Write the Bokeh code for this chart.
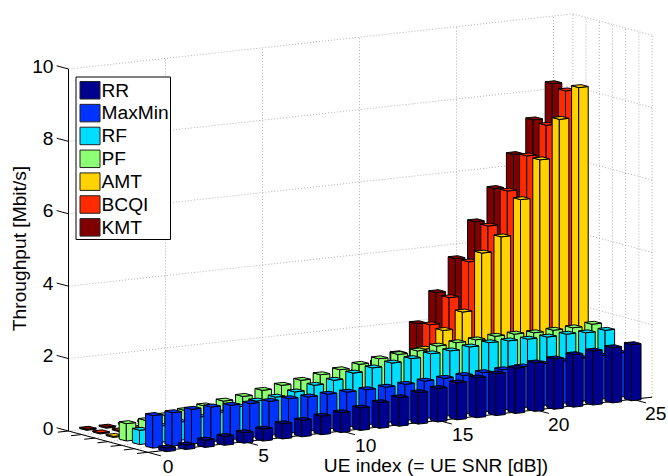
from bokeh.plotting import figure
from bokeh.models import Range1d
from bokeh.core.properties import value
from bokeh.embed import file_html
from bokeh.resources import INLINE

# ---- data (Mbit/s per UE index 1..25) ----
UE = list(range(1, 26))
RR = [0.10, 0.125, 0.20, 0.245, 0.29, 0.33, 0.42, 0.455, 0.51, 0.55, 0.62, 0.71, 0.79,
      0.87, 0.925, 1.02, 1.10, 1.155, 1.25, 1.34, 1.39, 1.45, 1.49, 1.525, 1.55]
MaxMin = [0.90, 0.92, 0.955, 0.96, 0.95, 0.94, 0.94, 0.955, 0.945, 0.96, 0.96, 0.97, 0.98,
          1.00, 1.03, 1.05, 1.07, 1.09, 1.11, 1.13, 1.15, 1.17, 1.19, 1.20, 1.22]
RF = [0.395, 0.45, 0.50, 0.58, 0.65, 0.75, 0.85, 0.90, 0.985, 1.11, 1.19, 1.33, 1.415,
      1.49, 1.555, 1.63, 1.65, 1.70, 1.76, 1.75, 1.74, 1.74, 1.76, 1.74, 1.75]
PF = [0.48, 0.51, 0.59, 0.67, 0.735, 0.81, 0.88, 0.99, 1.07, 1.15, 1.245, 1.325, 1.415,
      1.51, 1.57, 1.61, 1.685, 1.72, 1.74, 1.78, 1.78, 1.76, 1.77, 1.78, 1.82]
AMT = [0.03, 0.03, 0.04, 0.06, 0.08, 0.10, 0.13, 0.17, 0.20, 0.25, 0.30, 0.40, 0.50,
       0.70, 0.90, 1.20, 1.50, 1.96, 2.41, 3.98, 4.37, 5.34, 6.38, 7.44, 8.26]
BCQI = [0.03, 0.03, 0.04, 0.06, 0.08, 0.10, 0.13, 0.17, 0.20, 0.25, 0.30, 0.40, 0.50,
        0.65, 0.80, 1.00, 1.15, 2.02, 2.71, 3.64, 4.57, 5.48, 6.39, 7.18, 8.07]
KMT = [0.03, 0.03, 0.04, 0.06, 0.08, 0.10, 0.13, 0.17, 0.20, 0.25, 0.30, 0.40, 0.50,
       0.65, 0.80, 1.00, 1.18, 1.95, 2.75, 3.63, 4.59, 5.45, 6.33, 7.23, 8.17]

names = ["RR", "MaxMin", "RF", "PF", "AMT", "BCQI", "KMT"]
series = [RR, MaxMin, RF, PF, AMT, BCQI, KMT]
colors = ["#00008F", "#0033FF", "#00DDFF", "#8CFF73", "#FFD200", "#FF2A00", "#800000"]

x_ticks = [0, 5, 10, 15, 20, 25]
z_ticks = [0, 2, 4, 6, 8, 10]
y_ticks = [1, 2, 3, 4, 5, 6, 7]
x_label = "UE index (= UE SNR [dB])"
z_label = "Throughput [Mbit/s]"

XMAX, YMIN, YMAX, ZMAX = 26, 1, 7, 10
HX, HY = 0.245, 0.27
FONT = value("Liberation Sans")


def proj(x, y, z):
    """Orthographic view of the 3-D axes box, in page pixels."""
    return (68 + 19.4 * x + 13.2 * (7 - y),
            430.5 - 2.12 * x + 3.55 * (7 - y) - 36.2 * z)


def seg(a, b):
    p0, p1 = proj(*a), proj(*b)
    return [p0[0], p1[0]], [p0[1], p1[1]]


p = figure(width=668, height=476, output_backend="svg", toolbar_location=None,
           x_range=Range1d(0, 668), y_range=Range1d(476, 0), min_border=0,
           outline_line_color=None, background_fill_color="white")
p.axis.visible = False
p.grid.visible = False

# dotted grid on floor and the two far walls
gx, gy = [], []
def add(a, b):
    s = seg(a, b)
    gx.append(s[0]); gy.append(s[1])
for z in z_ticks:
    if z > 0:
        add((0, YMAX, z), (XMAX, YMAX, z))
        add((XMAX, YMAX, z), (XMAX, YMIN, z))
for x in x_ticks:
    add((x, YMAX, 0), (x, YMAX, ZMAX))
    add((x, YMIN, 0), (x, YMAX, 0))
for y in y_ticks:
    add((XMAX, y, 0), (XMAX, y, ZMAX))
    add((0, y, 0), (XMAX, y, 0))
p.multi_line(gx, gy, line_color="#b0b0b0", line_dash="1 2", line_width=1)

# solid axes and tick marks
ax, ay = [], []
def addk(a, b):
    s = seg(a, b)
    ax.append(s[0]); ay.append(s[1])
addk((0, YMAX, 0), (0, YMAX, ZMAX))
addk((0, YMAX, 0), (0, YMIN, 0))
addk((0, YMIN, 0), (XMAX, YMIN, 0))
for z in z_ticks:
    addk((0, YMAX, z), (0, YMAX + 0.9, z))
for y in y_ticks:
    addk((0, y, 0), (-0.55, y, 0))
for x in x_ticks:
    addk((x, YMIN, 0), (x, YMIN - 1, 0))
p.multi_line(ax, ay, line_color="black", line_width=1)

# bars, far to near
px, py, pc = [], [], []
for r in range(len(series) - 1, -1, -1):
    y = r + 1
    for i in range(len(UE) - 1, -1, -1):
        x, h = UE[i], series[r][i]
        x0, x1, y0, y1 = x - HX, x + HX, y - HY, y + HY
        faces = [
            [(x0, y1, 0), (x0, y0, 0), (x0, y0, h), (x0, y1, h)],
            [(x0, y0, 0), (x1, y0, 0), (x1, y0, h), (x0, y0, h)],
            [(x0, y0, h), (x1, y0, h), (x1, y1, h), (x0, y1, h)],
        ]
        for f in faces:
            pts = [proj(*c) for c in f]
            px.append([q[0] for q in pts])
            py.append([q[1] for q in pts])
            pc.append(colors[r])
p.patches(px, py, fill_color=pc, line_color="black", line_width=1, line_join="round")

# tick labels and axis titles
txt = dict(text_font=FONT, text_font_size="19.2px", text_color="black")
nudge = [-1.5, -3, 2, 2, 1, 1]
p.text([proj(0, YMAX, z)[0] - 15 for z in z_ticks],
       [proj(0, YMAX, z)[1] - 3 for z in z_ticks],
       text=[str(z) for z in z_ticks], text_align="right", text_baseline="middle", **txt)
p.text([proj(x, YMIN, 0)[0] + 22 + d for x, d in zip(x_ticks, nudge)],
       [proj(x, YMIN, 0)[1] + 14.2 for x in x_ticks],
       text=[str(x) for x in x_ticks], text_align="center", text_baseline="middle", **txt)
p.text([435.5], [464.5], text=[x_label], text_align="center", text_baseline="middle", **txt)
p.text([19], [248], text=[z_label], angle=1.5708, text_align="center",
       text_baseline="middle", **txt)

# legend
p.quad(left=[75.5], right=[170], top=[76.5], bottom=[239], fill_color="white",
       line_color="black", line_width=1)
n = list(range(len(names)))
p.quad(left=[79.5] * 7, right=[99.5] * 7,
       top=[81 + 22.85 * k for k in n], bottom=[98.5 + 22.85 * k for k in n],
       fill_color=colors, line_color="#222222", line_width=1)
p.text([101] * 7, [89.5 + 22.85 * k for k in n], text=names, text_align="left",
       text_baseline="middle", **txt)

open("out.html", "w").write(file_html(p, INLINE))
